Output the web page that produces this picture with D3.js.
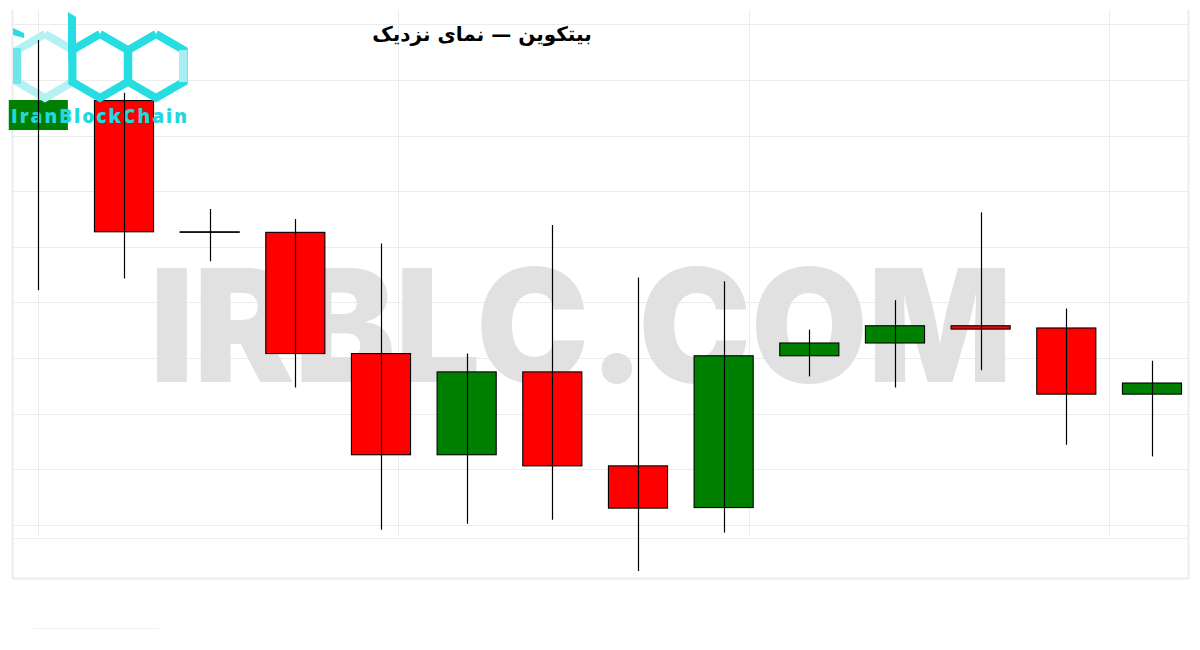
<!DOCTYPE html>
<html>
<head>
<meta charset="utf-8">
<script src="https://d3js.org/d3.v7.min.js"></script>
<style>
  body { margin: 0; background: #fff; }
  svg { display: block; }
</style>
</head>
<body>
<svg id="chart" width="1200" height="650"></svg>
<script>
// candles, oldest first (prices in USD)
var candles = ["c01","c02","c03","c04","c05","c06","c07","c08","c09","c10","c11","c12","c13","c14"]
var opens  = [9910, 9963, 9727, 9726, 9508, 9326, 9475, 9306, 9231, 9504, 9527, 9558, 9554, 9435]
var highs  = [10072, 9977, 9768, 9750, 9706, 9508, 9739, 9645, 9638, 9551, 9604, 9762, 9589, 9495]
var lows   = [9622, 9643, 9674, 9447, 9191, 9202, 9209, 9117, 9186, 9467, 9447, 9478, 9344, 9323]
var closes = [9964, 9727, 9726, 9508, 9326, 9475, 9306, 9230, 9504, 9527, 9558, 9552, 9435, 9455]

var priceTicks = [9200, 9300, 9400, 9500, 9600, 9700, 9800, 9900, 10000, 10100]
var timeTicks = [0, 4.2, 8.3, 12.5]   // vertical grid, in candle units

var title = "بیتکوین — نمای نزدیک"
var watermark = "IRBLC.COM"
var logoText = "IranBlockChain"

var svg = d3.select("#chart")

var x = d3.scaleBand().domain(candles).range([-4.5, 1194.8]).paddingInner(0.31).paddingOuter(0.155)
var xi = d3.scaleLinear().domain([0, candles.length - 1]).range([x(candles[0]) + x.bandwidth()/2, x(candles[13]) + x.bandwidth()/2])
var y = d3.scaleLinear().domain([9200, 10000]).range([524.8, 80])

// faint grid
var grid = svg.append("g").attr("stroke", "#ececec").attr("stroke-width", 1)
grid.selectAll(".h").data(priceTicks).enter().append("line")
  .attr("x1", 12).attr("x2", 1188)
  .attr("y1", function(d){ return Math.round(y(d)) + 0.5 }).attr("y2", function(d){ return Math.round(y(d)) + 0.5 })
grid.selectAll(".v").data(timeTicks).enter().append("line")
  .attr("y1", 10).attr("y2", 535)
  .attr("x1", function(d){ return Math.round(xi(d)) + 0.5 }).attr("x2", function(d){ return Math.round(xi(d)) + 0.5 })
svg.append("path").attr("d", "M12.5,10 L12.5,578.5 L1188.5,578.5 L1188.5,10")
  .attr("fill", "none").attr("stroke", "#ececec").attr("stroke-width", 2)
svg.append("line").attr("x1", 12).attr("x2", 1188).attr("y1", 538.5).attr("y2", 538.5).attr("stroke", "#efefef")
svg.append("line").attr("x1", 33).attr("x2", 158).attr("y1", 628.5).attr("y2", 628.5).attr("stroke", "#f2f2f2")

// watermark
svg.append("text").attr("x", 150).attr("y", 382).text(watermark)
  .attr("font-family", "Inter, 'DejaVu Sans', sans-serif").attr("font-weight", 900).attr("font-size", 157)
  .attr("textLength", 862).attr("lengthAdjust", "spacingAndGlyphs").attr("fill", "#e1e1e1")

// title
svg.append("text").attr("x", 482).attr("y", 41).attr("text-anchor", "middle").text(title)
  .attr("font-family", "'DejaVu Sans', sans-serif").attr("font-weight", "bold").attr("font-size", 20)
  .attr("direction", "rtl").attr("fill", "#000")

var idx = d3.range(candles.length)
function cx(i){ return x(candles[i]) + x.bandwidth()/2 }

// bodies
svg.append("g").selectAll("rect").data(idx).enter().append("rect")
  .attr("x", function(i){ return x(candles[i]) })
  .attr("width", x.bandwidth())
  .attr("y", function(i){ return y(Math.max(opens[i], closes[i])) })
  .attr("height", function(i){ return Math.max(0.5, Math.abs(y(opens[i]) - y(closes[i]))) })
  .attr("fill", function(i){ return closes[i] >= opens[i] ? "#008000" : "#ff0000" })
  .attr("stroke", "#000").attr("stroke-width", function(i){ return i == 0 ? 0 : 1.1 })

// logo (hexagons + name)
function hex(cxh, cyh, r){
  var pts = d3.range(7).map(function(k){
    var a = Math.PI/2 + k*Math.PI/3
    return [cxh + r*Math.cos(a), cyh - r*Math.sin(a)]
  })
  return d3.line()(pts)
}
var logo = svg.append("g")
logo.append("path").attr("d", hex(45, 66, 32)).attr("fill", "none").attr("stroke", "#b4f1f3").attr("stroke-width", 8)
logo.append("path").attr("d", hex(100, 66, 32)).attr("fill", "none").attr("stroke", "#26dde2").attr("stroke-width", 8)
logo.append("path").attr("d", hex(156, 66, 32)).attr("fill", "none").attr("stroke", "#26dde2").attr("stroke-width", 8)
logo.append("path").attr("d", "M183,50 L183,82").attr("fill", "none").attr("stroke", "#a6eef1").attr("stroke-width", 8)
logo.append("path").attr("d", "M68,12 L76,17 L76,60 L68,60 Z").attr("fill", "#26dde2")
logo.append("path").attr("d", "M13,28 L24,33 L24,38 L13,35 Z").attr("fill", "#26dde2")
logo.append("path").attr("d", "M17,48 L17,84").attr("stroke", "#6fe6ea").attr("stroke-width", 8)
logo.append("text").attr("x", 11).attr("y", 123).text(logoText)
  .attr("font-family", "'Open Sans', 'DejaVu Sans', sans-serif").attr("font-weight", 800).attr("font-size", 19)
  .attr("textLength", 176).attr("lengthAdjust", "spacing").attr("fill", "#24d6de")

// wicks
svg.append("g").selectAll("line").data(idx).enter().append("line")
  .attr("x1", function(i){ return Math.round(cx(i)) + 0.5 }).attr("x2", function(i){ return Math.round(cx(i)) + 0.5 })
  .attr("y1", function(i){ return y(highs[i]) }).attr("y2", function(i){ return y(lows[i]) })
  .attr("stroke", "#000").attr("stroke-width", 1.2)
</script>
</body>
</html>
